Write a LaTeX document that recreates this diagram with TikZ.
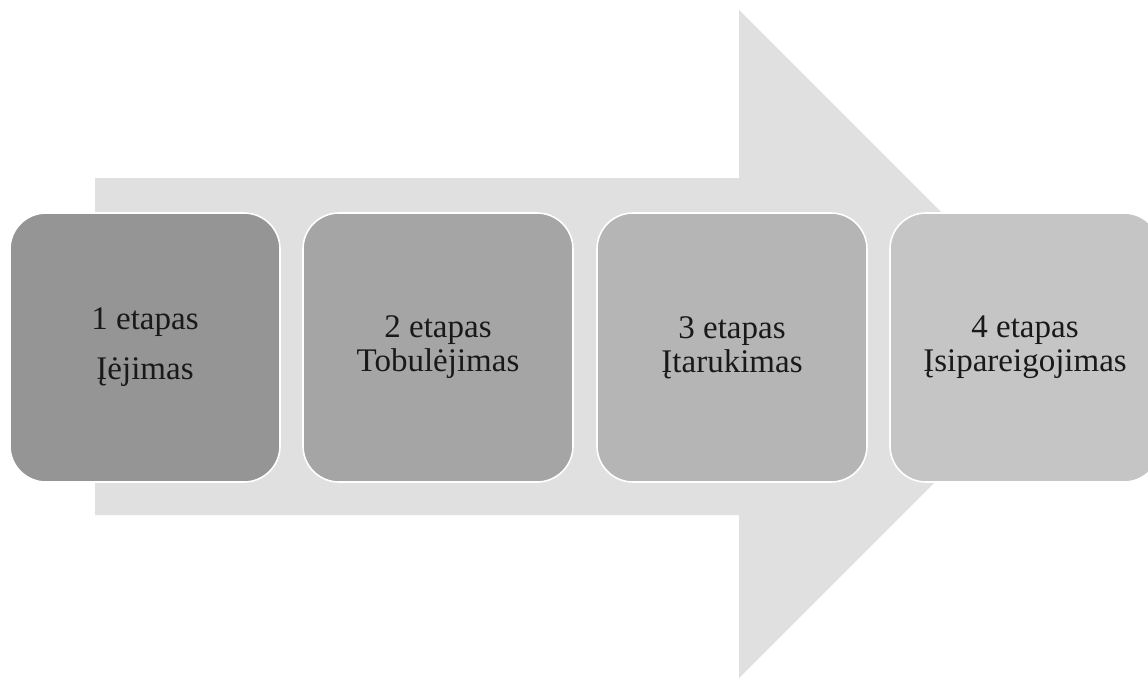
\documentclass[tikz,border=0pt]{standalone}
\usepackage{fontspec}
\setmainfont{Liberation Serif}
\definecolor{arrowgray}{HTML}{E0E0E0}
\definecolor{boxA}{HTML}{959595}
\definecolor{boxB}{HTML}{A5A5A5}
\definecolor{boxC}{HTML}{B5B5B5}
\definecolor{boxD}{HTML}{C5C5C5}
\tikzset{
  stagebox/.style={draw=white, line width=1.6pt, rounded corners=36pt,
    minimum width=270pt, minimum height=269pt, inner sep=0pt,
    align=center, text=black!90,
    font=\fontsize{33}{34}\selectfont}
}
\begin{document}
\begin{tikzpicture}[x=1pt,y=-1pt]
\clip (0,0) rectangle (1148,678);
\fill[white] (0,0) rectangle (1148,678);
% big arrow
\fill[arrowgray] (95,178) -- (739,178) -- (739,10) -- (1073,344) -- (739,678) -- (739,515) -- (95,515) -- cycle;
% stage boxes
\node[stagebox, fill=boxA] (s1) at (145,347.5) {1 etapas\\[16pt]Įėjimas};
\node[stagebox, fill=boxB] (s2) at (438,347.5) {2 etapas\\Tobulėjimas};
\node[stagebox, fill=boxC] (s3) at (732,347.5) {3 etapas\\Įtarukimas};
\node[stagebox, fill=boxD] (s4) at (1025,347.5) {4 etapas\\Įsipareigojimas};
\end{tikzpicture}
\end{document}
